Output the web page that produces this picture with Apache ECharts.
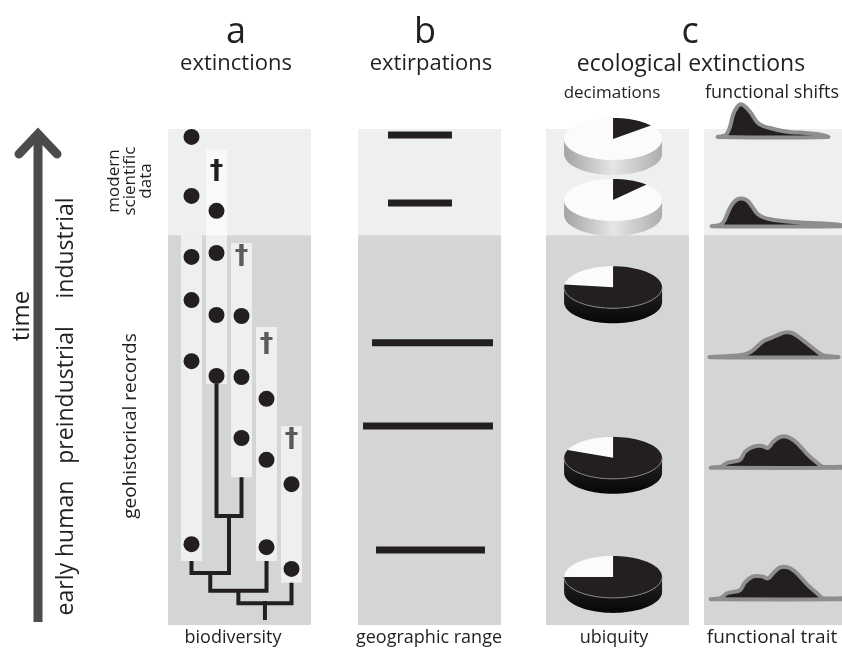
<!DOCTYPE html>
<html><head><meta charset="utf-8">
<script src="https://cdn.jsdelivr.net/npm/echarts@6/dist/echarts.min.js"></script>
<style>html,body{margin:0;padding:0;background:#fff}#c{width:842px;height:648px}</style>
</head><body><div id="c"></div>
<script>
// ---------- DATA (time axis: 0 = early human, 100 = present) ----------
const recordBands = [[78.6, 100], [0, 78.6]];          // modern scientific data, geohistorical records
const eraLabels = ['industrial', 'preindustrial', 'early human'];

// a: extinctions (5 lineages)
const lineageTop = [78.6, 95.8, 77.0, 60.1, 40.1];
const lineageBottom = [12.9, 48.6, 29.8, 12.9, 8.5];
const occurrences = [
  [98.4, 86.5, 74.2, 65.5, 53.2, 16.3],
  [83.5, 75.0, 62.5, 50.2],
  [62.3, 50.0, 37.7],
  [45.6, 33.3, 15.7],
  [28.4, 11.3]
];
const extinctionTimes = [null, 91.3, 74.2, 56.5, 37.3];
const splitChildren = [[1, 2], [0, 5], [6, 3], [7, 4]];   // ids >= 5 are earlier splits
const splitTimes = [22.0, 10.5, 6.9, 4.4];
const rootTime = 1.0;

// b: extirpations (geographic range, 0-100)
const rangeTimes = [98.8, 85.1, 56.9, 40.1, 15.1];
const rangeFrom = [21.0, 21.0, 9.8, 3.5, 12.6];
const rangeTo = [65.7, 65.7, 94.4, 94.4, 88.8];

// c: decimations (ubiquity share)
const ubiquityTimes = [98.0, 85.7, 68.1, 33.7, 9.7];
const ubiquityShare = [0.14, 0.12, 0.77, 0.81, 0.75];

// c: functional shifts (trait value, frequency)
const traitTimes = [98.4, 80.4, 54.0, 31.7, 5.2];
const traitProfiles = [
  [[10.1,0],[15.9,2],[18.8,10],[21.0,22],[23.9,30],[26.8,33],[30.4,30],[34.1,24],[38.4,15],[42.8,11],[47.8,9],[55.1,6.5],[62.3,5],[73.2,4],[81.9,3],[89.9,0]],
  [[5.8,0],[11.6,1.5],[14.5,5],[17.4,14],[20.3,22],[23.9,27],[27.5,28],[31.2,26],[34.8,20],[38.4,13],[42.8,9],[47.8,7],[55.1,5.5],[62.3,4.5],[73.2,3.5],[84.1,3],[94.9,2],[100,1],[100,0]],
  [[4.3,0],[15.2,1],[26.1,2],[31.9,4],[35.5,7],[42.8,16],[47.8,19],[52.9,22],[58.7,25],[64.5,24],[71.7,17],[79.0,9],[86.2,2],[97.1,0]],
  [[5.1,0],[12,1],[16.7,5],[26.1,8],[29.7,16],[35.5,21],[42.0,22],[46.4,20],[50.0,26],[55.1,31],[60.9,31],[67.4,25],[74.6,14],[81.9,5],[86.2,1],[100,1],[100,0]],
  [[5.1,0],[12,1],[16.7,6],[26.1,9],[29.7,17],[35.5,23],[42.0,23],[46.4,21],[50.0,26],[55.1,32],[60.9,32],[67.4,26],[74.6,15],[81.9,6],[86.2,1],[100,1],[100,0]]
];

// ---------- STYLE ----------
const FONT = '"Open Sans", sans-serif';
const INK = '#231f20';
const LIGHT_BG = '#eeefef', DARK_BG = '#d4d5d7';
const DENSITY_SCALE = 0.2;
const PIE_X = 46.9;

const chart = echarts.init(document.getElementById('c'));

function splitX(k) { if (k < 5) return k; const [a, b] = splitChildren[k - 5]; return (splitX(a) + splitX(b)) / 2; }
function nodeTop(k) { return k < 5 ? lineageBottom[k] : splitTimes[k - 5]; }
function ellPts(cx, cy, rx, ry, a0, a1, n) {
  const pts = [];
  for (let k = 0; k <= n; k++) { const a = (a0 + (a1 - a0) * k / n) * Math.PI / 180; pts.push([cx + rx * Math.sin(a), cy - ry * Math.cos(a)]); }
  return pts;
}

function bandSeries(g) {
  return {
    type: 'custom', xAxisIndex: g, yAxisIndex: g, z: 1, silent: true,
    data: recordBands.map(b => [0, b[0], b[1]]),
    renderItem: (p, api) => {
      const cs = p.coordSys;
      const yTop = api.coord([0, api.value(2)])[1], yBot = api.coord([0, api.value(1)])[1];
      return { type: 'rect', shape: { x: cs.x, y: yTop, width: cs.width, height: yBot - yTop }, style: { fill: p.dataIndex === 0 ? LIGHT_BG : DARK_BG } };
    }
  };
}

const grids = [
  { left: 168, top: 129, width: 143, height: 496 },
  { left: 358, top: 129, width: 143, height: 496 },
  { left: 546, top: 129, width: 143, height: 496 },
  { left: 704, top: 129, width: 138, height: 496 }
];
const xRanges = [[-0.94, 4.78], [0, 100], [0, 100], [0, 100]];

function txt(text, x, y, size, opts) {
  opts = opts || {};
  return {
    type: 'text', x: x, y: y, rotation: opts.rot || 0, silent: true,
    style: { text: text, fill: opts.fill || INK, font: size + 'px ' + FONT, align: 'center', verticalAlign: 'middle', textAlign: 'center', textVerticalAlign: 'middle', lineHeight: opts.lh || size * 1.2 }
  };
}
const R = Math.PI / 2;

const option = {
  animation: false,
  grid: grids.map(g => Object.assign({ containLabel: false }, g)),
  xAxis: xRanges.map((r, i) => ({ gridIndex: i, type: 'value', min: r[0], max: r[1], show: false })),
  yAxis: grids.map((g, i) => ({ gridIndex: i, type: 'value', min: 0, max: 100, show: false })),
  graphic: [
    { type: 'polyline', silent: true, shape: { points: [[38, 622], [38, 136]] }, style: { stroke: '#4b4b4d', lineWidth: 9, fill: 'none' } },
    { type: 'polyline', silent: true, shape: { points: [[19, 154], [38, 134], [57, 154]] }, style: { stroke: '#4b4b4d', lineWidth: 9, fill: 'none', lineCap: 'round', lineJoin: 'miter' } },
    txt('time', 22, 316, 24, { rot: R }),
    txt(eraLabels[0], 66, 248, 23, { rot: R }),
    txt(eraLabels[1], 66, 395, 23, { rot: R }),
    txt(eraLabels[2], 66, 548, 23, { rot: R }),
    txt('modern\nscientific\ndata', 130, 181, 17, { rot: R, lh: 16 }),
    txt('geohistorical records', 131, 426, 19, { rot: R }),
    txt('a', 236, 33, 36), txt('extinctions', 236, 64, 22),
    txt('b', 425, 33, 36), txt('extirpations', 431, 64, 22),
    txt('c', 690, 33, 36), txt('ecological extinctions', 691, 64, 23),
    txt('decimations', 612, 93, 17), txt('functional shifts', 772, 93, 18),
    txt('biodiversity', 233, 638, 18), txt('geographic range', 429, 638, 18),
    txt('ubiquity', 614, 638, 18), txt('functional trait', 772, 638, 19)
  ],
  series: [
    bandSeries(0), bandSeries(1), bandSeries(2), bandSeries(3),
    // lineage duration strips
    {
      type: 'custom', xAxisIndex: 0, yAxisIndex: 0, z: 2, silent: true,
      data: lineageTop.map((t, i) => [i, t, lineageBottom[i]]),
      renderItem: (p, api) => {
        const a = api.coord([api.value(0), api.value(1)]), b = api.coord([api.value(0), api.value(2)]);
        const w = api.size([0.84, 0])[0];
        return { type: 'rect', shape: { x: a[0] - w / 2, y: a[1], width: w, height: b[1] - a[1] }, style: { fill: 'rgba(255,255,255,0.62)' } };
      }
    },
    // phylogeny
    {
      type: 'custom', xAxisIndex: 0, yAxisIndex: 0, z: 3, silent: true,
      data: splitTimes.map((t, i) => [splitX(5 + i), t]),
      renderItem: (p, api) => {
        const i = p.dataIndex, [a, b] = splitChildren[i], t = splitTimes[i];
        const pts = [[splitX(a), nodeTop(a)], [splitX(a), t], [splitX(b), t], [splitX(b), nodeTop(b)]].map(q => api.coord(q));
        const ch = [{ type: 'polyline', shape: { points: pts }, style: { stroke: INK, lineWidth: 4, fill: 'none', lineJoin: 'miter' } }];
        if (i === splitTimes.length - 1) {
          const s0 = api.coord([splitX(5 + i), t]), s1 = api.coord([splitX(5 + i), rootTime]);
          ch.push({ type: 'line', shape: { x1: s0[0], y1: s0[1] - 2, x2: s1[0], y2: s1[1] }, style: { stroke: INK, lineWidth: 4, fill: 'none' } });
        }
        return { type: 'group', children: ch };
      }
    },
    // fossil occurrences
    {
      type: 'scatter', xAxisIndex: 0, yAxisIndex: 0, z: 4, silent: true,
      symbolSize: 16, itemStyle: { color: INK, opacity: 1 },
      data: occurrences.flatMap((arr, i) => arr.map(t => [i, t]))
    },
    // extinction daggers
    {
      type: 'custom', xAxisIndex: 0, yAxisIndex: 0, z: 4, silent: true,
      data: extinctionTimes.map((t, i) => [i, t]).filter(d => d[1] !== null),
      renderItem: (p, api) => {
        const c = api.coord([api.value(0), api.value(1)]);
        return { type: 'text', x: c[0], y: c[1], style: { text: '\u2020', fill: p.dataIndex === 0 ? INK : '#5b5b5d', font: 'bold 27px "DejaVu Sans"', align: 'center', verticalAlign: 'middle', textAlign: 'center', textVerticalAlign: 'middle' } };
      }
    },
    // extirpations: geographic ranges
    {
      type: 'custom', xAxisIndex: 1, yAxisIndex: 1, z: 3, silent: true,
      data: rangeTimes.map((t, i) => [rangeFrom[i], t, rangeTo[i]]),
      renderItem: (p, api) => {
        const a = api.coord([api.value(0), api.value(1)]), b = api.coord([api.value(2), api.value(1)]);
        return { type: 'rect', shape: { x: a[0], y: a[1] - 3.5, width: b[0] - a[0], height: 7 }, style: { fill: INK } };
      }
    },
    // decimations: 3D pies
    {
      type: 'custom', xAxisIndex: 2, yAxisIndex: 2, z: 3, silent: true,
      data: ubiquityTimes.map((t, i) => [PIE_X, t, ubiquityShare[i]]),
      renderItem: (p, api) => {
        const c = api.coord([api.value(0), api.value(1)]), share = api.value(2);
        const RX = 49, RY = 21, TH = 15, dark = share > 0.5;
        const front = ellPts(c[0], c[1], RX, RY, 90, 270, 40);
        const lower = ellPts(c[0], c[1] + TH, RX, RY, 270, 90, 40);
        const sideFill = dark
          ? { type: 'linear', x: 0, y: 0, x2: 0, y2: 1, colorStops: [{ offset: 0, color: '#262626' }, { offset: 1, color: '#050505' }] }
          : { type: 'linear', x: 0, y: 0, x2: 1, y2: 0, colorStops: [{ offset: 0, color: '#a3a3a3' }, { offset: 0.5, color: '#e6e6e6' }, { offset: 1, color: '#adadad' }] };
        const ch = [
          { type: 'polygon', shape: { points: front.concat(lower) }, style: { fill: sideFill } },
          { type: 'polygon', shape: { points: ellPts(c[0], c[1], RX, RY, 0, 360, 90) }, style: { fill: '#fbfbfb' } },
          { type: 'polygon', shape: { points: [[c[0], c[1]]].concat(ellPts(c[0], c[1], RX, RY, 0, share * 360, 60)) }, style: { fill: INK } }
        ];
        if (dark) ch.push({ type: 'polyline', shape: { points: front }, style: { stroke: '#7d7d7d', lineWidth: 1, fill: 'none' } });
        return { type: 'group', children: ch };
      }
    },
    // functional shifts: trait distributions
    {
      type: 'custom', xAxisIndex: 3, yAxisIndex: 3, z: 3, silent: true,
      data: traitTimes.map((t, i) => [0, t]),
      renderItem: (p, api) => {
        const t = api.value(1);
        const pts = traitProfiles[p.dataIndex].map(([x, h]) => api.coord([x, t + h * DENSITY_SCALE]));
        return { type: 'polygon', shape: { points: pts, smooth: 0.3 }, style: { fill: INK, stroke: '#8e8e8e', lineWidth: 4, lineJoin: 'round' } };
      }
    }
  ]
};
chart.setOption(option);
</script></body></html>
